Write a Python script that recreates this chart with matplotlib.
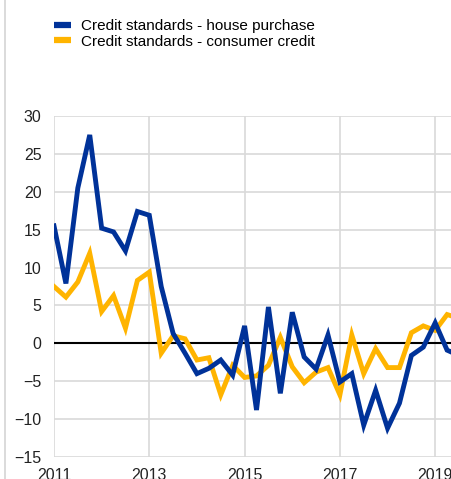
import matplotlib
matplotlib.use("Agg")
import matplotlib.pyplot as plt
from matplotlib.lines import Line2D

# quarterly, 2011Q1 .. 2019Q3 (last point falls just outside the picture)
START_YEAR = 2011
house_purchase = [15.5, 7.9, 20.5, 27.5, 15.2, 14.7, 12.2, 17.4,
                  16.9, 7.5, 1.3, -1.3, -4.0, -3.3, -2.2, -4.2,
                  2.3, -8.8, 4.8, -6.6, 4.1, -1.8, -3.4, 1.1,
                  -5.1, -4.0, -10.8, -6.2, -11.2, -7.9, -1.6, -0.5,
                  2.7, -0.9, -1.6]
consumer_credit = [7.5, 6.1, 8.1, 11.9, 4.2, 6.3, 2.0, 8.3,
                   9.4, -1.3, 1.0, 0.6, -2.2, -1.9, -6.8, -2.9,
                   -4.5, -4.3, -2.9, 0.8, -3.1, -5.2, -3.8, -3.2,
                   -6.8, 1.1, -4.0, -0.7, -3.2, -3.2, 1.4, 2.3,
                   1.7, 3.8, 3.3]
labels = ["Credit standards - house purchase", "Credit standards - consumer credit"]
y_ticks = [30, 25, 20, 15, 10, 5, 0, -5, -10, -15]
x_ticks = [2011, 2013, 2015, 2017, 2019]

BLUE = "#003299"
YELLOW = "#FFB400"
GRID = "#D9D9D9"

plt.rcParams["font.family"] = ["Liberation Sans", "DejaVu Sans"]
plt.rcParams["font.size"] = 11

x = [START_YEAR + i * 0.25 for i in range(len(house_purchase))]

W, H = 452, 479
fig = plt.figure(figsize=(W / 100, H / 100), dpi=100)
ax = fig.add_axes([54 / W, (H - 457) / H, 1 - 54 / W, (457 - 116) / H])

ax.plot(x, house_purchase, color=BLUE, lw=3.5, label=labels[0], zorder=4,
        solid_joinstyle="miter")
ax.plot(x, consumer_credit, color=YELLOW, lw=3.5, label=labels[1], zorder=3,
        solid_joinstyle="miter")
ax.axhline(0, color="black", lw=1.5, zorder=2)

ax.set_ylim(-15, 30)
ax.set_xlim(2011, 2011 + (452 - 54) / 47.65)
ax.set_yticks(y_ticks)
ax.set_xticks(x_ticks)
ax.set_xticklabels([str(t) for t in x_ticks])
ax.grid(True, color=GRID, lw=1.2, zorder=0)
ax.tick_params(length=0, colors="#222222", labelsize=11.5)
ax.tick_params(axis="y", pad=9)
ax.tick_params(axis="x", pad=8)
for s in ax.spines.values():
    s.set_visible(False)

fig.add_artist(Line2D([5.5 / W, 5.5 / W], [0, 1], color="#D4D4D4", lw=1.2))

leg = fig.legend(loc="upper left", bbox_to_anchor=(54 / W, 1 - 19 / H),
                 frameon=False, borderpad=0, borderaxespad=0,
                 handlelength=1.1, handletextpad=0.65, labelspacing=0.1,
                 fontsize=11)
for h in leg.legend_handles:
    h.set_linewidth(4.5)
    h.set_solid_capstyle("butt")

fig.savefig("out.png", dpi=100)
